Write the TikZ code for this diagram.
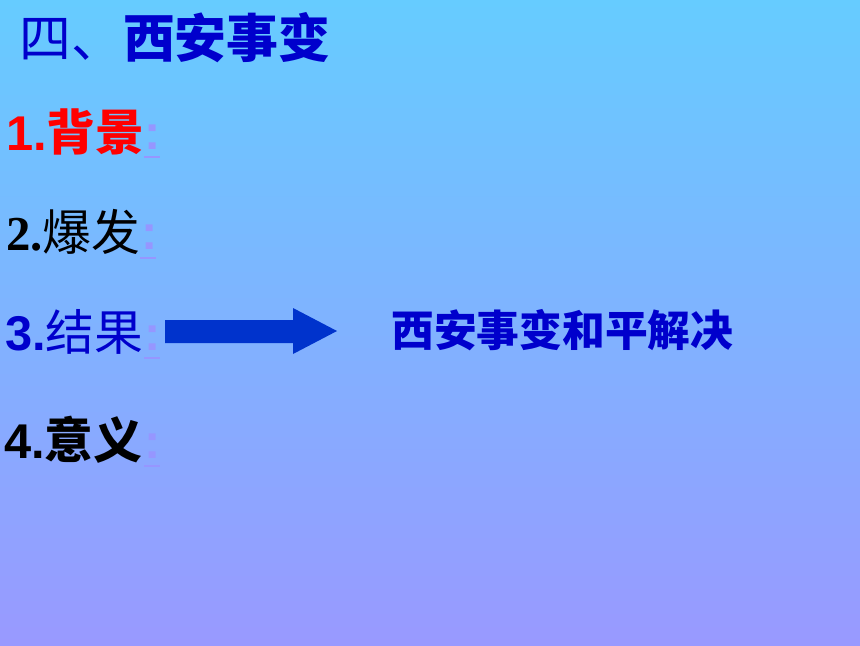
\documentclass[tikz,border=0pt]{standalone}
\usepackage{fontspec}
\setmainfont{Liberation Sans}
\newfontfamily\cjk{Noto Sans CJK SC}
\newfontfamily\timesnum{Liberation Serif}
\usepackage{tikz}
\usetikzlibrary{positioning}
\definecolor{topblue}{RGB}{102,204,255}
\definecolor{botblue}{RGB}{153,153,255}
\definecolor{deepblue}{RGB}{0,0,204}
\definecolor{arrowblue}{RGB}{0,51,204}
\definecolor{linkpurple}{RGB}{150,150,255}

\begin{document}
\begin{tikzpicture}[x=0.025cm,y=-0.025cm,
  item/.style={anchor=base west,inner sep=0pt,font=\fontsize{34.7}{38}\selectfont},
  colon/.style={anchor=base,inner ysep=0pt,inner xsep=-2pt,text=linkpurple,font=\fontsize{34.7}{38}\selectfont\bfseries},
  uline/.style={draw=linkpurple,line width=1.4pt}]
\useasboundingbox (0,0) rectangle (860,645);
\shade[top color=topblue,bottom color=botblue] (0,0) rectangle (860,645);

\node[item,text=deepblue,font=\fontsize{36.9}{40}\selectfont] (title) at (19,57) {\cjk 四、\bfseries 西安事变};

	\node[item,text=red] (bg) at (6,150) {\bfseries 1.\cjk 背景};
	\node[item,text=black] (bf) at (6,250) {\timesnum\bfseries 2.\cjk\mdseries 爆发};
	\node[item,text=deepblue] (jg) at (5,350) {\bfseries 3.\cjk\mdseries 结果};
	\node[item,text=black] (yy) at (4,458) {\bfseries 4.\cjk 意义};

	\node[colon] (c1) at (153,149) {:};
	\node[colon] (c2) at (150,249) {:};
	\node[colon] (c3) at (153,350) {:};
	\node[colon] (c4) at (153,458) {:};
	\draw[uline] (144,157) -- (160,157);
	\draw[uline] (140,258) -- (156,258);
	\draw[uline] (144,358) -- (160,358);
	\draw[uline] (144,466) -- (160,466);

	\fill[arrowblue] (165,320) -- (293,320) -- (293,308) -- (337,331)
	  -- (293,354) -- (293,343) -- (165,343) -- cycle;

	\node[item,text=deepblue,font=\fontsize{30.4}{34}\selectfont] (res) at (391,346) {\cjk\bfseries 西安事变和平解决};
\end{tikzpicture}
\end{document}
